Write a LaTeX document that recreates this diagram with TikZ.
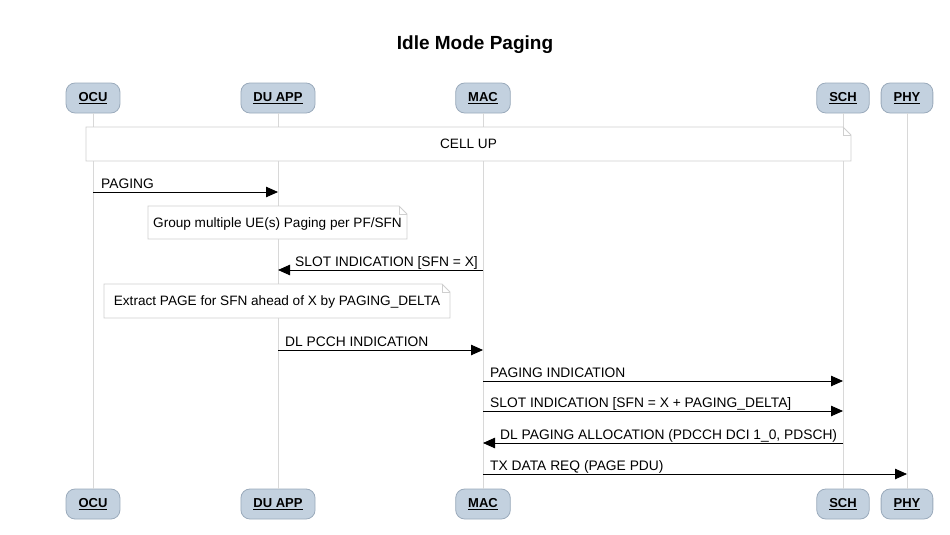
\documentclass[tikz,border=0pt]{standalone}
\usepackage{fontspec}
\setmainfont{Liberation Sans}
\usetikzlibrary{arrows.meta,calc}
\definecolor{partfill}{HTML}{C3D1DF}
\definecolor{partdraw}{HTML}{9AAABB}
\definecolor{lifecol}{HTML}{D8D8D8}
\definecolor{notedraw}{HTML}{CFCFCF}
\begin{document}
\begin{tikzpicture}[x=1pt,y=-1pt,
  part/.style={draw=partdraw,fill=partfill,rounded corners=9pt,minimum height=30pt,inner xsep=12.5pt,font=\fontsize{13}{15}\selectfont\bfseries,line width=0.8pt},
  life/.style={draw=lifecol,line width=0.8pt},
  msg/.style={draw=black,line width=0.8pt,-{Triangle[length=12pt,width=10.5pt]}},
  lbl/.style={font=\fontsize{13.8}{16}\selectfont,anchor=base west,inner sep=0pt},
  notetxt/.style={font=\fontsize{13.6}{16}\selectfont,inner sep=0pt}]
\useasboundingbox (0,0) rectangle (950,535);
\node[font=\fontsize{19}{22}\selectfont\bfseries] (title) at (475,45) {Idle Mode Paging};
% participants
\foreach \n/\x/\t in {ocu/93/OCU,du/278/DU APP,mac/483/MAC,sch/843/SCH,phy/907/PHY}{
  \node[part] (\n T) at (\x,98) {\underline{\t}};
  \node[part] (\n B) at (\x,504) {\underline{\t}};
  \draw[life] (\n T.south) -- (\n B.north);
}
% notes
\newcommand{\notebox}[5]{% name,x1,y1,x2,y2
  \draw[notedraw,fill=white,line width=0.8pt] (#2,#3) -- (#4-8,#3) -- (#4,#3+8) -- (#4,#5) -- (#2,#5) -- cycle;
  \draw[notedraw,line width=0.8pt] (#4-8,#3) -- (#4-8,#3+8) -- (#4,#3+8);
  \coordinate (#1) at ({(#2+#4)/2},{(#3+#5)/2});
}
\notebox{cellup}{86}{127}{851}{161}
\node[notetxt] (cellupT) at (cellup) {CELL UP};
% PAGING
\coordinate (m1) at (0,192);
\draw[msg] (ocuT |- m1) -- (duT |- m1);
\node[lbl] (l1) at (101,188) {PAGING};
\notebox{grp}{148}{206}{407}{239}
\node[notetxt] (grpT) at ($(grp)+(0,1)$) {Group multiple UE(s) Paging per PF/SFN};
% SLOT IND
\coordinate (m2) at (0,270);
\draw[msg] (macT |- m2) -- (duT |- m2);
\node[lbl] (l2) at (295,266) {SLOT INDICATION [SFN = X]};
\notebox{ext}{104}{284}{450}{318}
\node[notetxt] (extT) at ($(ext)+(0,1)$) {Extract PAGE for SFN ahead of X by PAGING\_DELTA};
% DL PCCH
\coordinate (m3) at (0,350);
\draw[msg] (duT |- m3) -- (macT |- m3);
\node[lbl] (l3) at (285,346) {DL PCCH INDICATION};
% PAGING IND
\coordinate (m4) at (0,381);
\draw[msg] (macT |- m4) -- (schT |- m4);
\node[lbl] (l4) at (490,377) {PAGING INDICATION};
\coordinate (m5) at (0,411);
\draw[msg] (macT |- m5) -- (schT |- m5);
\node[lbl] (l5) at (490,407) {SLOT INDICATION [SFN = X + PAGING\_DELTA]};
\coordinate (m6) at (0,443);
\draw[msg] (schT |- m6) -- (macT |- m6);
\node[lbl] (l6) at (500,439) {DL PAGING ALLOCATION (PDCCH DCI 1\_0, PDSCH)};
\coordinate (m7) at (0,474);
\draw[msg] (macT |- m7) -- (phyT |- m7);
\node[lbl] (l7) at (490,470) {TX DATA REQ (PAGE PDU)};
\end{tikzpicture}
\end{document}
